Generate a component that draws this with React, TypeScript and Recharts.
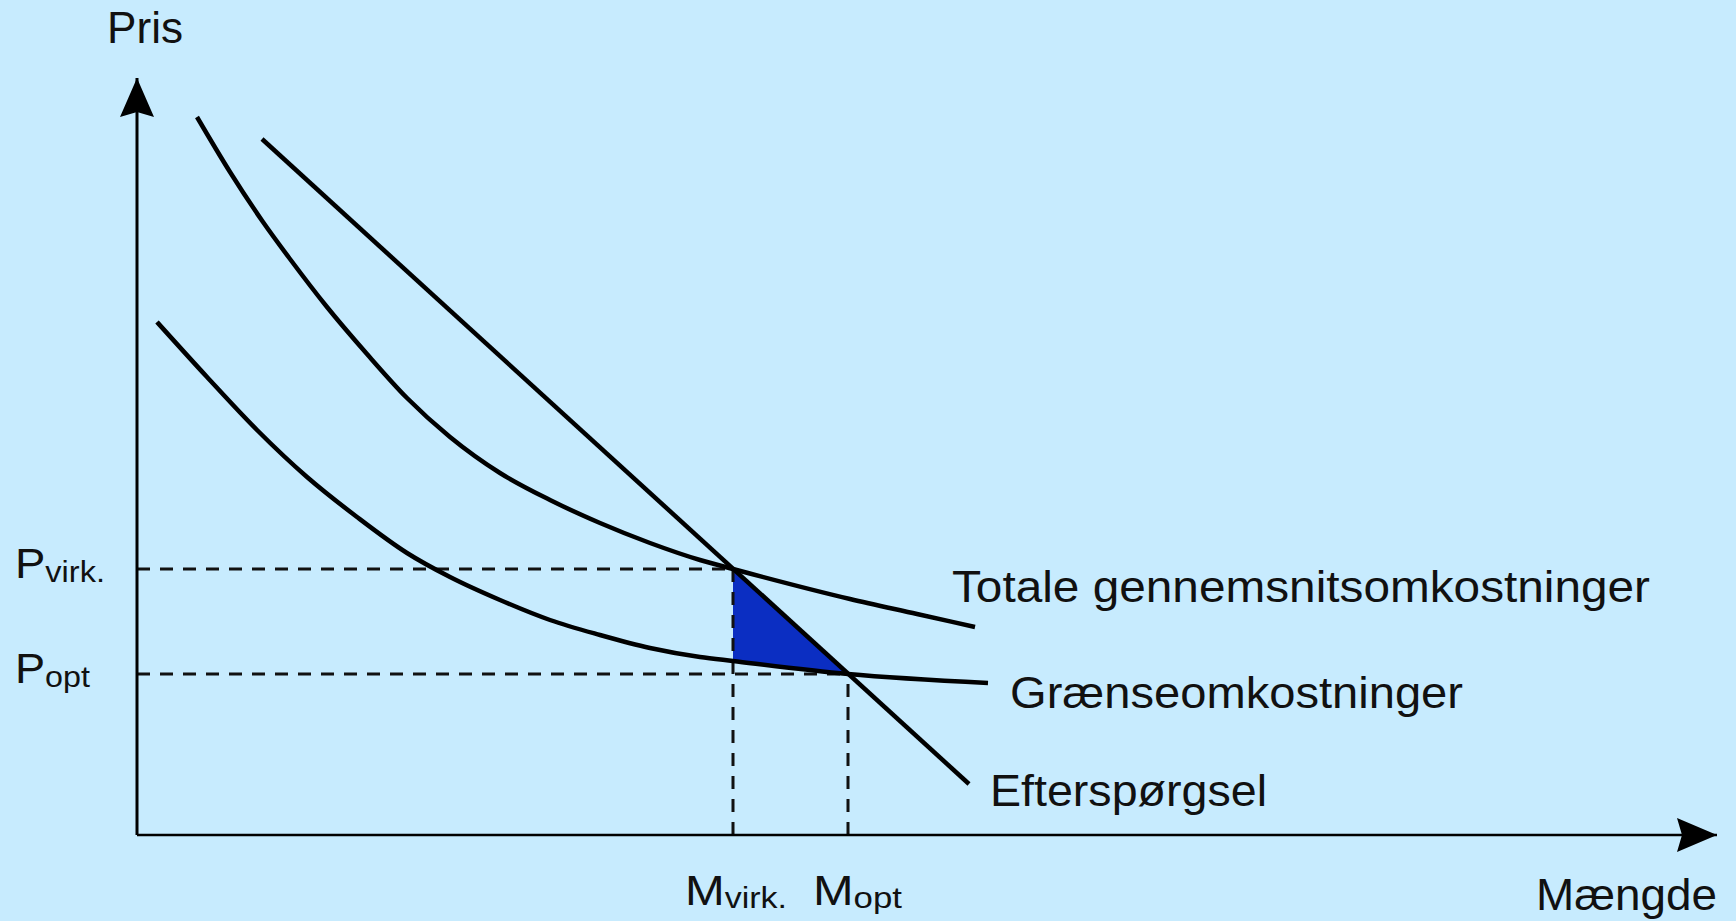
import React from 'react';
import {
    ComposedChart,
    Line,
    Area,
    XAxis,
    YAxis,
    ReferenceLine,
    ReferenceDot,
} from 'recharts';

// axis extents (quantity / price units)
const quantityMax = 158;
const priceMax = 75.7;

// equilibrium points
const mVirk = 59.6;
const mOpt = 71.1;
const pVirk = 26.6;
const pOpt = 16.1;

// Efterspørgsel
const demandQ = [12.5, 83.2];
const demandP = [69.6, 5.1];

// Totale gennemsnitsomkostninger
const atcQ = [6.0, 9.3, 12.6, 15.3, 19.0, 23.0, 27.0, 31.3, 36.3, 41.3, 46.3, 51.3, 56.3, 59.6, 71.3, 78.0, 83.8];
const atcP = [71.8, 66.3, 61.3, 57.6, 52.8, 48.1, 43.7, 39.8, 36.2, 33.5, 31.2, 29.2, 27.5, 26.6, 23.6, 22.1, 20.8];

// Grænseomkostninger
const mcQ = [2.0, 7.0, 12.0, 17.0, 22.0, 27.0, 31.3, 36.3, 41.3, 46.3, 51.3, 56.3, 59.6, 71.1, 85.1];
const mcP = [51.3, 45.8, 40.5, 35.8, 31.8, 28.2, 25.8, 23.5, 21.5, 20.0, 18.7, 17.8, 17.4, 16.1, 15.2];

// welfare loss triangle
const lossQ = [mVirk, mOpt];
const lossLow = [17.4, 16.1];
const lossHigh = [26.6, 16.1];

const xTicks = [mVirk, mOpt];
const xTickLabels = [['M', 'virk.'], ['M', 'opt']];
const yTicks = [pOpt, pVirk];
const yTickLabels = [['P', 'opt'], ['P', 'virk.']];

const toRows = (qs: number[], ps: number[]) => qs.map((q, i) => ({ q, p: ps[i] }));
const demandData = toRows(demandQ, demandP);
const atcData = toRows(atcQ, atcP);
const mcData = toRows(mcQ, mcP);
const lossData = lossQ.map((q, i) => ({ q, r: [lossLow[i], lossHigh[i]] }));

const FONT = '"Liberation Sans", Arial, sans-serif';
const INK = '#111';
const BG = '#C7EBFE';

const YTick = (props: any) => {
    const { x, y, payload } = props;
    const idx = yTicks.indexOf(payload.value);
    const [main, sub] = yTickLabels[idx] || ['', ''];
    return (
        <text x={x - 122} y={y + 9} fill={INK} fontFamily={FONT} textLength={sub === 'opt' ? 75 : 90} lengthAdjust="spacingAndGlyphs">
            <tspan fontSize={42}>{main}</tspan>
            <tspan fontSize={30} dy={4}>{sub}</tspan>
        </text>
    );
};

const XTick = (props: any) => {
    const { x, y, payload } = props;
    const idx = xTicks.indexOf(payload.value);
    const [main, sub] = xTickLabels[idx] || ['', ''];
    const w = sub === 'opt' ? 89 : 102;
    const left = sub === 'opt' ? x - 35 : x - 48;
    return (
        <text x={left} y={y + 70} fill={INK} fontFamily={FONT} textLength={w} lengthAdjust="spacingAndGlyphs">
            <tspan fontSize={42}>{main}</tspan>
            <tspan fontSize={30} dy={3}>{sub}</tspan>
        </text>
    );
};

const textShape = (text: string, dx: number, dy: number, width: number, anchor: 'start' | 'end' = 'start') =>
    (props: any) => (
        <text
            x={props.cx + dx}
            y={props.cy + dy}
            fill={INK}
            fontFamily={FONT}
            fontSize={44}
            textAnchor={anchor}
            textLength={width}
            lengthAdjust="spacingAndGlyphs"
        >
            {text}
        </text>
    );

const upArrow = (props: any) => (
    <polygon points={`${props.cx},${props.cy} ${props.cx - 17},${props.cy + 39} ${props.cx},${props.cy + 34} ${props.cx + 17},${props.cy + 39}`} fill="#000" />
);

const rightArrow = (props: any) => (
    <polygon points={`${props.cx},${props.cy} ${props.cx - 40},${props.cy - 17} ${props.cx - 35},${props.cy} ${props.cx - 40},${props.cy + 17}`} fill="#000" />
);

const dash = { stroke: '#111', strokeWidth: 3, strokeDasharray: '13 10' };

export default function App() {
    return (
        <div style={{ position: 'absolute', left: 0, top: 0, width: 1736, height: 921, background: BG }}>
            <ComposedChart width={1736} height={921} margin={{ top: 78, right: 19, bottom: 0, left: 0 }}>
                <XAxis
                    type="number"
                    dataKey="q"
                    domain={[0, quantityMax]}
                    allowDataOverflow
                    ticks={xTicks}
                    tick={<XTick />}
                    tickLine={false}
                    tickSize={0}
                    tickMargin={0}
                    height={86}
                    axisLine={{ stroke: '#000', strokeWidth: 2.5 }}
                />
                <YAxis
                    type="number"
                    dataKey="p"
                    domain={[0, priceMax]}
                    allowDataOverflow
                    ticks={yTicks}
                    tick={<YTick />}
                    tickLine={false}
                    tickSize={0}
                    tickMargin={0}
                    width={137}
                    axisLine={{ stroke: '#000', strokeWidth: 3 }}
                />
                <Area
                    data={lossData}
                    dataKey="r"
                    type="linear"
                    fill="#0B2EC2"
                    fillOpacity={1}
                    stroke="none"
                    isAnimationActive={false}
                />
                <ReferenceLine segment={[{ x: 0, y: pVirk }, { x: mVirk, y: pVirk }]} {...dash} />
                <ReferenceLine segment={[{ x: 0, y: pOpt }, { x: mOpt, y: pOpt }]} {...dash} />
                <ReferenceLine segment={[{ x: mVirk, y: 0 }, { x: mVirk, y: pVirk }]} {...dash} />
                <ReferenceLine segment={[{ x: mOpt, y: 0 }, { x: mOpt, y: pOpt }]} {...dash} />
                <Line data={atcData} dataKey="p" type="monotone" stroke="#000" strokeWidth={4.5} dot={false} isAnimationActive={false} />
                <Line data={mcData} dataKey="p" type="monotone" stroke="#000" strokeWidth={4.5} dot={false} isAnimationActive={false} />
                <Line data={demandData} dataKey="p" type="linear" stroke="#000" strokeWidth={4.5} dot={false} isAnimationActive={false} />
                <ReferenceDot x={0} y={priceMax} ifOverflow="visible" shape={upArrow} />
                <ReferenceDot x={quantityMax} y={0} ifOverflow="visible" shape={rightArrow} />
                <ReferenceDot x={0} y={priceMax} ifOverflow="visible" shape={textShape('Pris', -30, -35, 76)} />
                <ReferenceDot x={quantityMax} y={0} ifOverflow="visible" shape={textShape('Mængde', 0, 75, 181, 'end')} />
                <ReferenceDot x={atcQ[atcQ.length - 1]} y={atcP[atcP.length - 1]} ifOverflow="visible" shape={textShape('Totale gennemsnitsomkostninger', -23, -25, 698)} />
                <ReferenceDot x={mcQ[mcQ.length - 1]} y={mcP[mcP.length - 1]} ifOverflow="visible" shape={textShape('Grænseomkostninger', 22, 25, 453)} />
                <ReferenceDot x={demandQ[demandQ.length - 1]} y={demandP[demandP.length - 1]} ifOverflow="visible" shape={textShape('Efterspørgsel', 21, 22, 277)} />
            </ComposedChart>
        </div>
    );
}
